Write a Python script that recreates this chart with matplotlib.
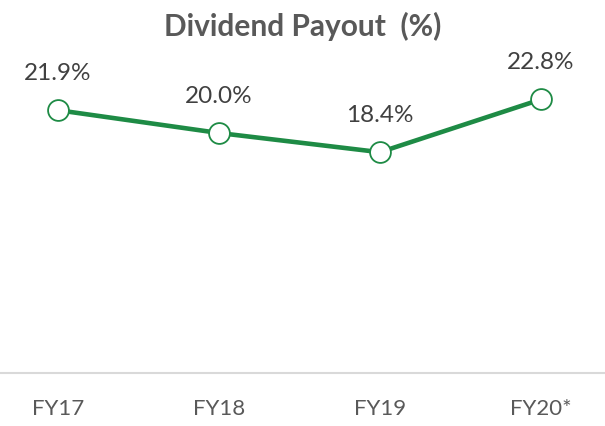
import matplotlib
matplotlib.use("Agg")
import matplotlib.pyplot as plt

years = ["FY17", "FY18", "FY19", "FY20*"]
payout = [21.9, 20.0, 18.4, 22.8]
value_labels = ["21.9%", "20.0%", "18.4%", "22.8%"]

GREEN = "#1E8B45"
plt.rcParams["font.family"] = ["Lato", "DejaVu Sans"]

fig = plt.figure(figsize=(6.05, 4.27), dpi=100)
fig.patch.set_facecolor("white")
ax = fig.add_axes([0.0, 53 / 427, 1.0, 300 / 427])

xs = list(range(len(years)))
ax.plot(xs, payout, color=GREEN, linewidth=3.3, marker="o", markersize=15,
        markerfacecolor="white", markeredgecolor=GREEN, markeredgewidth=1.3,
        solid_capstyle="round", zorder=3)

for x, v, lab in zip(xs, payout, value_labels):
    ax.annotate(lab, (x, v), xytext=(0, 27), textcoords="offset points",
                ha="center", va="center", fontsize=17.5, color="#404040")

ax.set_xlim(-58 / 161, (605 - 58) / 161)
ax.set_ylim(0, 25)
ax.set_xticks(xs)
ax.set_xticklabels(years, fontsize=16, color="#595959")
ax.tick_params(axis="x", length=0, pad=18)
ax.set_yticks([])
for side in ["top", "left", "right"]:
    ax.spines[side].set_visible(False)
ax.spines["bottom"].set_color("#D9D9D9")
ax.spines["bottom"].set_linewidth(1.5)
ax.set_facecolor("none")

fig.text(0.5, 1 - 26 / 427, "Dividend Payout  (%)", ha="center", va="center",
         fontsize=21.5, fontweight="bold", color="#595959")

fig.savefig("out.png", dpi=100, facecolor="white")
